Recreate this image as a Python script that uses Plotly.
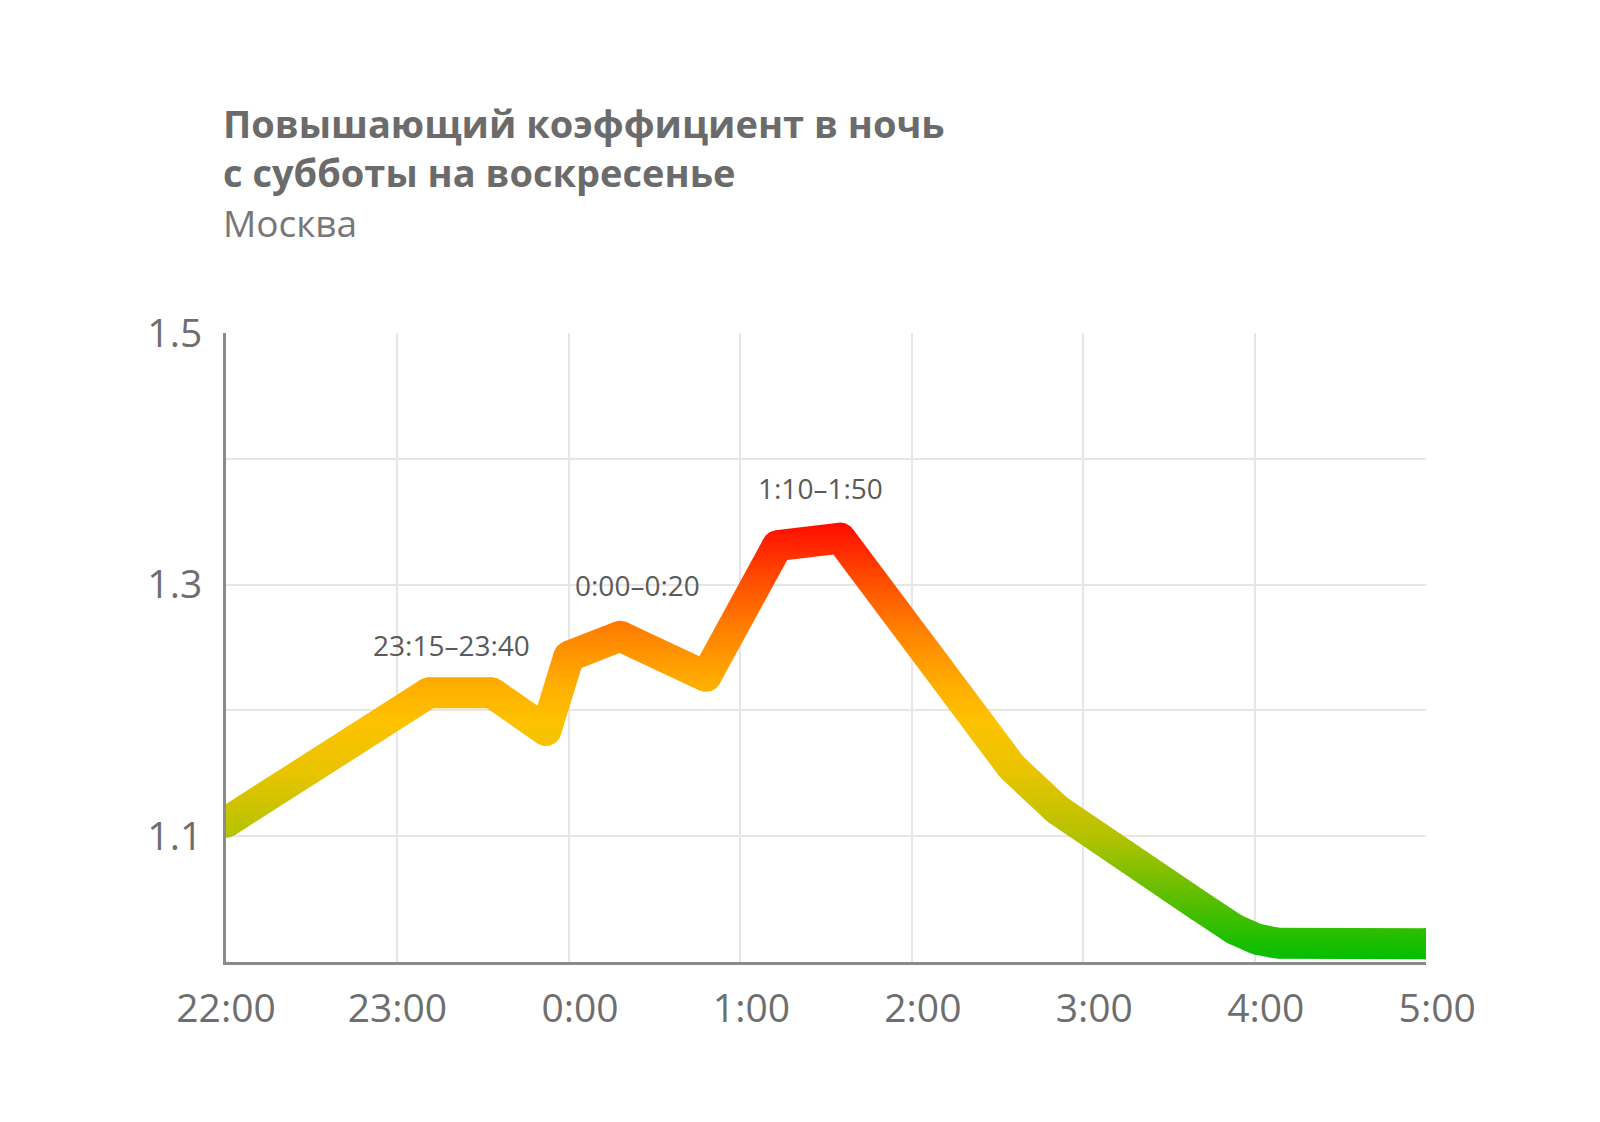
import numpy as np
import plotly.graph_objects as go

# surge multiplier in Moscow, night from Saturday to Sunday
times = ["22:00", "23:11", "23:33", "23:52", "0:00", "0:18", "0:48",
         "1:13", "1:35", "2:35", "2:51", "3:41", "3:53", "4:01", "4:08", "5:00"]
surge = [1.111, 1.214, 1.214, 1.184, 1.243, 1.259, 1.227,
         1.331, 1.337, 1.155, 1.121, 1.044, 1.026, 1.018, 1.015, 1.0145]

hour_labels = ["22:00", "23:00", "0:00", "1:00", "2:00", "3:00", "4:00", "5:00"]
y_ticks = [1.1, 1.2, 1.3, 1.4, 1.5]
y_labels = ["1.1", "", "1.3", "", "1.5"]

peak_labels = ["23:15–23:40", "0:00–0:20", "1:10–1:50"]
peak_label_x = ["23:19", "0:24", "1:28"]
peak_label_y = [1.252, 1.300, 1.377]

# colours along the value axis (green -> yellow -> red)
grad_start, grad_stop = 1.0, 1.35
grad_colors = [[0.0, "#00be00"], [0.143, "#5abe00"], [0.286, "#b4c200"],
               [0.429, "#e8c400"], [0.543, "#fdc200"], [0.629, "#ffae00"],
               [0.743, "#ff8500"], [0.857, "#ff5200"], [1.0, "#ff0a00"]]


def to_minutes(t):
    h, m = map(int, t.split(":"))
    if h < 22:
        h += 24
    return (h - 22) * 60 + m


x_min = [to_minutes(t) for t in times]

W, H = 1600, 1122
M_L, M_R, M_T, M_B = 218, 182, 325, 168
X_RANGE = [0, 420]
Y_RANGE = [1.0, 1.5]
sx = (W - M_L - M_R) / (X_RANGE[1] - X_RANGE[0])   # px per minute
sy = (H - M_T - M_B) / (Y_RANGE[1] - Y_RANGE[0])   # px per unit
half = 15.5  # half line thickness, px

fill_kw = dict(
    fill="toself",
    mode="lines",
    line=dict(width=0, color="rgba(0,0,0,0)"),
    fillgradient=dict(type="vertical", colorscale=grad_colors,
                      start=grad_start, stop=grad_stop),
    hoverinfo="skip",
    showlegend=False,
)

pts = np.column_stack([np.array(x_min) * sx, np.array(surge) * sy])

fig = go.Figure()

# thick line drawn as segment bands + round joints so it can carry a vertical gradient
for p0, p1 in zip(pts[:-1], pts[1:]):
    d = p1 - p0
    n = np.array([-d[1], d[0]]) / np.hypot(*d) * half
    poly = np.array([p0 + n, p1 + n, p1 - n, p0 - n, p0 + n])
    fig.add_trace(go.Scatter(x=poly[:, 0] / sx, y=poly[:, 1] / sy, **fill_kw))

ang = np.linspace(0, 2 * np.pi, 61)
for p in pts:
    cx = (p[0] + half * np.cos(ang)) / sx
    cy = (p[1] + half * np.sin(ang)) / sy
    fig.add_trace(go.Scatter(x=cx, y=cy, **fill_kw))

# centre line for hover
fig.add_trace(go.Scatter(x=x_min, y=surge, mode="lines",
                         line=dict(width=0, color="rgba(0,0,0,0)"),
                         text=times, hovertemplate="%{text}: %{y:.2f}<extra></extra>",
                         showlegend=False))

for txt, tx, ty in zip(peak_labels, peak_label_x, peak_label_y):
    fig.add_annotation(x=to_minutes(tx), y=ty, text=txt, showarrow=False,
                       font=dict(size=28, color="#5a5a5a"))

fig.add_annotation(
    xref="paper", yref="paper", x=0, y=(H - M_B - 87) / (H - M_T - M_B),
    xanchor="left", yanchor="top", align="left", showarrow=False, xshift=-5,
    text="<b>Повышающий коэффициент в ночь<br>с субботы на воскресенье</b><br>"
         "<span style='color:#777777;font-size:37px'>Москва</span>",
    font=dict(size=38, color="#6b6b6b"),
)

# single-digit hours are padded so labels line up on the right like in the original
tick_text = [lab if len(lab) == 5 else "\u2007" + lab for lab in hour_labels]

fig.update_layout(
    width=W, height=H,
    margin=dict(l=M_L, r=M_R, t=M_T, b=M_B),
    plot_bgcolor="white", paper_bgcolor="white",
    font=dict(family="Open Sans, Noto Sans, sans-serif", color="#6e6e6e"),
    xaxis=dict(
        range=X_RANGE,
        tickvals=[60 * i for i in range(len(hour_labels))],
        ticktext=tick_text,
        showgrid=True, gridcolor="#e6e6e6", gridwidth=2,
        showline=True, linecolor="#8a8a8a", linewidth=3,
        zeroline=False, ticks="", ticklabelstandoff=10,
        tickfont=dict(size=39, color="#6e6e6e"),
        fixedrange=True,
    ),
    yaxis=dict(
        range=Y_RANGE,
        tickvals=y_ticks, ticktext=y_labels,
        showgrid=True, gridcolor="#e6e6e6", gridwidth=2,
        showline=True, linecolor="#8a8a8a", linewidth=3,
        zeroline=False, ticks="", ticklabelstandoff=13,
        tickfont=dict(size=39, color="#6e6e6e"),
        fixedrange=True,
    ),
)

fig.write_html("out.html")
